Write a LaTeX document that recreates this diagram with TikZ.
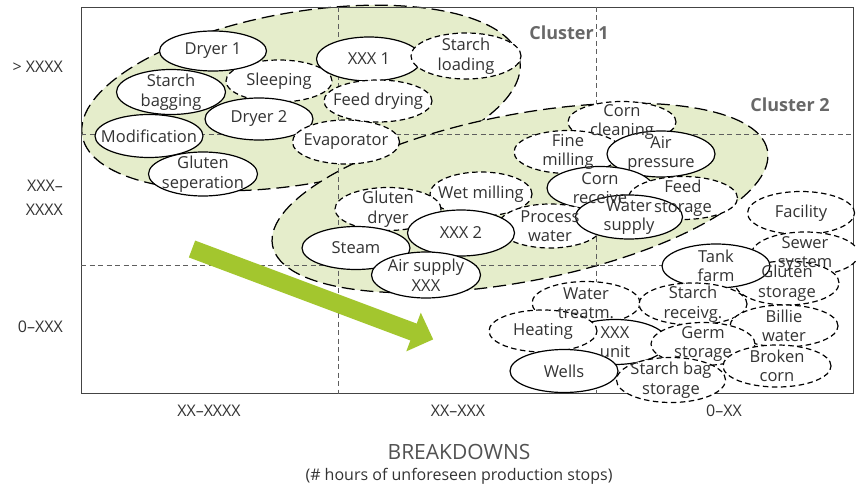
\documentclass[tikz,border=0pt]{standalone}
\usepackage{fontspec}
\setmainfont{Open Sans}
\usetikzlibrary{shapes.geometric,arrows.meta}
\definecolor{clfill}{HTML}{E5EDCB}
\definecolor{arrowgreen}{HTML}{A3C62E}
\definecolor{txt}{HTML}{333333}
\definecolor{gridc}{HTML}{5E5E5E}
\definecolor{cltxt}{HTML}{686868}
\definecolor{framec}{HTML}{444444}
\newcommand\mkell[6]{\node[#6, minimum width=#4pt, minimum height=#5pt] (#1) at (#2,#3) {};}
\newcommand\mklbl[2]{\node[lbl] (#1-t) at (#1) {#2};}
\begin{document}
\begin{tikzpicture}[x=1pt,y=-1pt,
  cluster/.style={ellipse, draw=black, fill=clfill, line width=1.25pt, dash pattern=on 13pt off 6pt, inner sep=0pt},
  box/.style={ellipse, fill=white, draw=black, line width=1.2pt, inner sep=0pt},
  sbox/.style={box},
  dbox/.style={box, dash pattern=on 5.5pt off 3.5pt},
  lbl/.style={text=txt, font=\fontsize{16.5}{19.5}\selectfont, align=center, inner sep=0pt},
  gridline/.style={draw=gridc, line width=1pt, dash pattern=on 5pt off 3.5pt},
  axlbl/.style={text=txt, font=\fontsize{16}{24}\selectfont, inner sep=0pt},
  cllbl/.style={text=cltxt, font=\fontsize{18}{22}\selectfont\bfseries, inner sep=0pt}
]
\useasboundingbox[fill=white] (0,0) rectangle (856,489);

% clusters
\node[cluster, minimum width=444pt, minimum height=172pt, rotate=9.8] (cl1) at (301,98) {};
\node[cluster, minimum width=504pt, minimum height=167pt, rotate=10.9] (cl2) at (520,198) {};

% frame and grid
\node[draw=framec, line width=1.1pt, minimum width=772pt, minimum height=386pt, anchor=north west, inner sep=0pt] (frame) at (81,7) {};
\coordinate (gx1) at (338,0);
\coordinate (gx2) at (596,0);
\coordinate (gy1) at (0,135);
\coordinate (gy2) at (0,265);
\draw[gridline] (frame.north -| gx1) -- (frame.south -| gx1);
\draw[gridline] (frame.north -| gx2) -- (frame.south -| gx2);
\draw[gridline] (frame.west |- gy1) -- (frame.east |- gy1);
\draw[gridline] (frame.west |- gy2) -- (frame.east |- gy2);

% trend arrow
\coordinate (arrowtail) at (192,249);
\coordinate (arrowtip) at (433.2,339.4);
\draw[arrowgreen, line width=18pt, -{Triangle[length=21pt, width=40pt]}] (arrowtail) -- (arrowtip);

% cluster 1 items
\mkell{sleeping}{279}{81}{106}{42}{dbox}
\mkell{dryerone}{213}{51}{107}{40}{sbox}
\mkell{starchbag}{171}{92}{109}{45}{sbox}
\mkell{dryertwo}{259}{119}{108}{42}{sbox}
\mkell{modif}{149}{136}{108}{43}{sbox}
\mkell{glutensep}{203}{174}{109}{44}{sbox}
\mkell{evap}{346}{142}{107}{44}{dbox}
\mkell{xxxone}{369}{59}{105}{44}{sbox}
\mkell{starchload}{466}{56}{110}{46}{dbox}
\mkell{feeddry}{378}{101}{108}{42}{dbox}

% cluster 2 items
\mkell{corncleaning}{622}{122}{108}{41}{dbox}
\mkell{finemilling}{568}{152}{108}{43}{dbox}
\mkell{airpressure}{661}{154}{108}{46}{sbox}
\mkell{wetmilling}{481}{194}{102}{44}{dbox}
\mkell{glutendryer}{388}{209}{106}{43}{dbox}
\mkell{cornreceive}{600}{188}{106}{43}{sbox}
\mkell{feedstorage}{683}{198}{109}{43}{dbox}
\mkell{processwater}{550}{226}{104}{44}{dbox}
\mkell{watersupply}{629}{217}{107}{44}{sbox}
\mkell{xxxtwo}{461}{233}{107}{46}{sbox}
\mkell{steam}{356}{248}{108}{43}{sbox}
\mkell{airsupply}{426}{275}{109}{46}{sbox}

% remaining items
\mkell{facility}{801}{213}{107}{43}{dbox}
\mkell{sewer}{805}{254}{107}{44}{dbox}
\mkell{glutenstorage}{787}{283}{104}{44}{dbox}
\mkell{tankfarm}{716}{266}{108}{44}{sbox}
\mkell{watertreat}{586}{303}{108}{43}{dbox}
\mkell{starchreceivg}{693}{304}{108}{42}{dbox}
\mkell{billie}{784}{326}{108}{42}{dbox}
\mkell{xxxunit}{615}{342}{105}{45}{sbox}
\mkell{heating}{543}{331}{108}{42}{dbox}
\mkell{wells}{564}{371}{108}{43}{sbox}
\mkell{germ}{703}{344}{104}{43}{dbox}
\mkell{broken}{777}{366}{108}{42}{dbox}
\mkell{starchbagstor}{671}{380}{109}{45}{dbox}

% labels
\mklbl{dryerone}{Dryer 1}
\mklbl{starchbag}{Starch\\bagging}
\mklbl{sleeping}{Sleeping}
\mklbl{dryertwo}{Dryer 2}
\mklbl{modif}{Modification}
\mklbl{glutensep}{Gluten\\seperation}
\mklbl{evap}{Evaporator}
\mklbl{xxxone}{XXX 1}
\mklbl{starchload}{Starch\\loading}
\mklbl{feeddry}{Feed drying}
\mklbl{corncleaning}{Corn\\cleaning}
\mklbl{finemilling}{Fine\\milling}
\mklbl{airpressure}{Air\\pressure}
\mklbl{wetmilling}{Wet milling}
\mklbl{glutendryer}{Gluten\\dryer}
\mklbl{cornreceive}{Corn\\receive}
\mklbl{feedstorage}{Feed\\storage}
\mklbl{processwater}{Process\\water}
\mklbl{watersupply}{Water\\supply}
\mklbl{xxxtwo}{XXX 2}
\mklbl{steam}{Steam}
\mklbl{airsupply}{Air supply\\XXX}
\mklbl{facility}{Facility}
\mklbl{sewer}{Sewer\\system}
\mklbl{glutenstorage}{Gluten\\storage}
\mklbl{tankfarm}{Tank\\farm}
\mklbl{watertreat}{Water\\treatm.}
\mklbl{starchreceivg}{Starch\\receivg.}
\mklbl{billie}{Billie\\water}
\mklbl{xxxunit}{XXX\\unit}
\mklbl{heating}{Heating}
\mklbl{wells}{Wells}
\mklbl{germ}{Germ\\storage}
\mklbl{broken}{Broken\\corn}
\mklbl{starchbagstor}{Starch bag\\storage}

% cluster titles
\node[cllbl] (cl1-t) at (569,33) {Cluster 1};
\node[cllbl] (cl2-t) at (790,105) {Cluster 2};

% axis labels
\node[axlbl, anchor=east] (ylab1) at (63,67) {> XXXX};
\node[axlbl, anchor=east, align=right] (ylab2) at (63,198) {XXX–\\XXXX};
\node[axlbl, anchor=east] (ylab3) at (63,327) {0–XXX};
\node[axlbl] (xlab1) at (209,411) {XX–XXXX};
\node[axlbl] (xlab2) at (458,411) {XX–XXX};
\node[axlbl] (xlab3) at (724,411) {0–XX};
\node[text=txt!85!white, font=\fontsize{21}{24}\selectfont, inner sep=0pt] (xtitle) at (459,452) {BREAKDOWNS};
\node[axlbl] (xsub) at (459,476) {(\# hours of unforeseen production stops)};
\end{tikzpicture}
\end{document}
